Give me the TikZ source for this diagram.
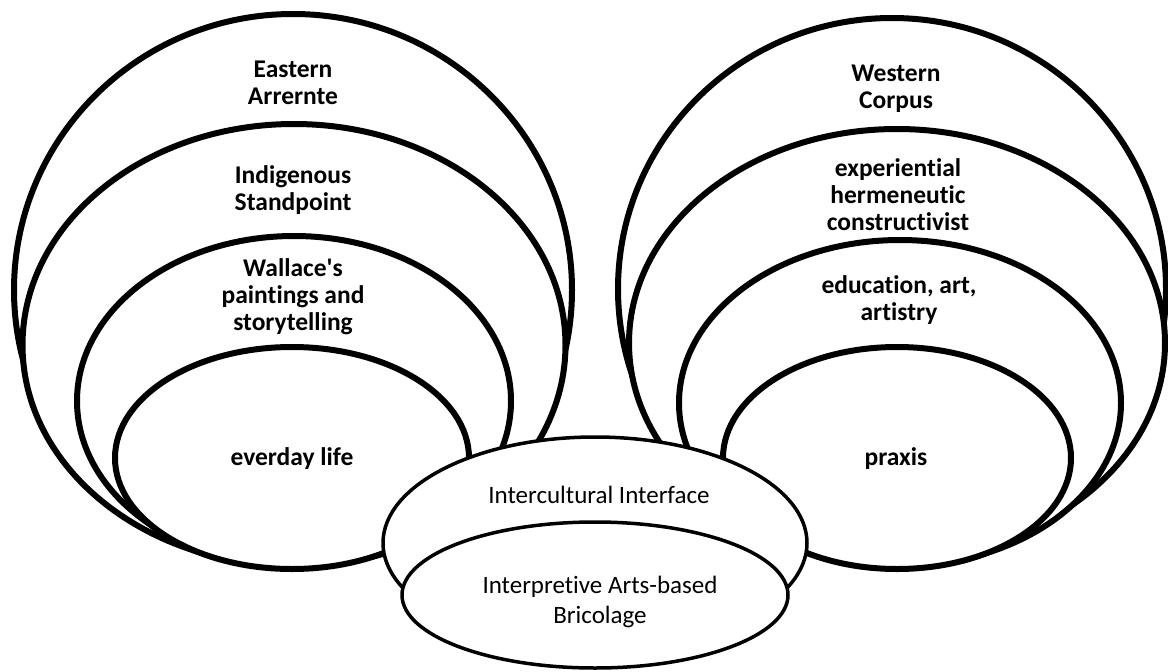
\documentclass[tikz,border=0pt]{standalone}
\usepackage{fontspec}
\setmainfont{Carlito}
\newfontfamily\labelfont{Carlito}[Ligatures=NoCommon]
\usetikzlibrary{shapes.geometric}
\begin{document}
\begin{tikzpicture}[x=1pt,y=-1pt,
  ring/.style={ellipse, draw, line width=6pt, fill=white, inner sep=0pt},
  hub/.style={ellipse, draw, line width=3.5pt, fill=white, inner sep=0pt},
  lbl/.style={align=center, font=\labelfont\fontsize{25.5}{27}\selectfont\bfseries, inner sep=0pt},
  hublbl/.style={align=center, font=\labelfont\fontsize{25}{30}\selectfont, inner sep=0pt}]
\useasboundingbox (0,0) rectangle (1168,672);

% left group of nested rings
\node[ring, minimum width=558pt, minimum height=552pt] (L1) at (293,290) {};
\node[ring, minimum width=543pt, minimum height=442pt] (L2) at (294,345) {};
\node[ring, minimum width=434pt, minimum height=330pt] (L3) at (294,401) {};
\node[ring, minimum width=354pt, minimum height=222pt] (L4) at (292,458) {};

% right group of nested rings
\node[ring, minimum width=548pt, minimum height=542pt] (R1) at (892,289) {};
\node[ring, minimum width=536pt, minimum height=428pt] (R2) at (897,343) {};
\node[ring, minimum width=442pt, minimum height=326pt] (R3) at (900,403) {};
\node[ring, minimum width=348pt, minimum height=222pt] (R4) at (897,458) {};

% central interface
\node[hub, minimum width=424pt, minimum height=212pt] (H1) at (595,543) {};
\node[hub, minimum width=386pt, minimum height=146pt] (H2) at (595,595) {};

% labels
\node[lbl] (tL1) at (293,82.5) {Eastern\\Arrernte};
\node[lbl] (tL2) at (293,190) {Indigenous\\Standpoint};
\node[lbl] (tL3) at (293,297) {Wallace's\\paintings and\\storytelling};
\node[lbl] (tL4) at (292,459) {everday life};

\node[lbl] (tR1) at (896,88.5) {Western\\Corpus};
\node[lbl] (tR2) at (898,195) {experiential\\hermeneutic\\constructivist};
\node[lbl] (tR3) at (899,300.5) {education, art,\\artistry};
\node[lbl] (tR4) at (896,459) {praxis};

\node[hublbl] (tH1) at (599,495) {Intercultural Interface};
\node[hublbl] (tH2) at (600,602) {Interpretive Arts-based\\Bricolage};
\end{tikzpicture}
\end{document}
